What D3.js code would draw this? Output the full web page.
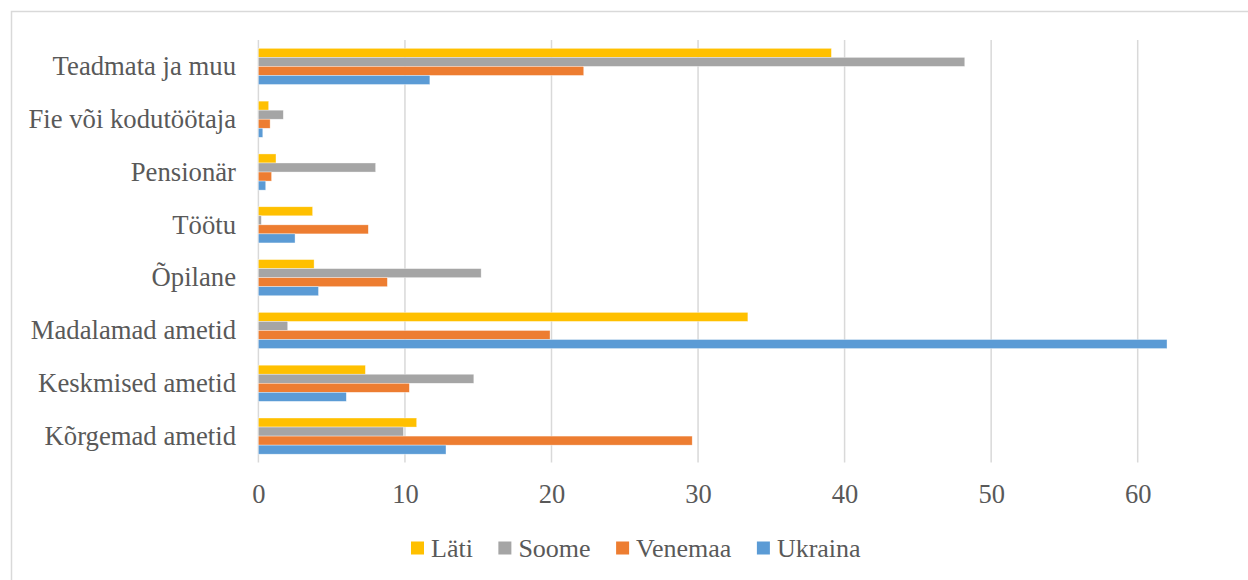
<!DOCTYPE html>
<html>
<head>
<meta charset="utf-8">
<script src="https://cdn.jsdelivr.net/npm/d3@7"></script>
<style>
  html, body { margin: 0; padding: 0; background: #fff; }
  svg { display: block; }
  text { font-family: "Liberation Serif", "Times New Roman", serif; fill: #595959; }
</style>
</head>
<body>
<svg id="chart" width="1248" height="580"></svg>
<script>
// Categories (top to bottom as displayed)
const categories = ["Teadmata ja muu", "Fie või kodutöötaja", "Pensionär", "Töötu", "Õpilane", "Madalamad ametid", "Keskmised ametid", "Kõrgemad ametid"];
const seriesNames = ["Läti", "Soome", "Venemaa", "Ukraina"];
const seriesColors = ["#FFC000", "#A5A5A5", "#ED7D31", "#5B9BD5"];
// Values per series, in the category order above
const latiValues    = [39.1, 0.7, 1.2, 3.7, 3.8, 33.4, 7.3, 10.8];
const soomeValues   = [48.2, 1.7, 8.0, 0.2, 15.2, 2.0, 14.7, 9.9];
const venemaaValues = [22.2, 0.8, 0.9, 7.5, 8.8, 19.9, 10.3, 29.6];
const ukrainaValues = [11.7, 0.3, 0.5, 2.5, 4.1, 62.0, 6.0, 12.8];
const xTicks = [0, 10, 20, 30, 40, 50, 60];

const seriesValues = [latiValues, soomeValues, venemaaValues, ukrainaValues];

const svg = d3.select("#chart");

// outer frame
svg.append("rect")
  .attr("x", 11.5).attr("y", 11.5)
  .attr("width", 1400).attr("height", 800)
  .attr("fill", "none").attr("stroke", "#d9d9d9").attr("stroke-width", 1.5);

const plotTop = 40, plotBottom = 462.5;
const x = d3.scaleLinear().domain([0, 60]).range([258.4, 1137.7]);
const y = d3.scaleBand().domain(categories).range([plotTop, plotBottom])
  .paddingInner(0.315).paddingOuter(0.1575);
const ySub = d3.scaleBand().domain(seriesNames).range([0, y.bandwidth()]);

// gridlines
svg.append("g").selectAll("line").data(xTicks).join("line")
  .attr("x1", d => x(d)).attr("x2", d => x(d))
  .attr("y1", plotTop).attr("y2", plotBottom)
  .attr("stroke", "#d9d9d9").attr("stroke-width", 1.5);

// bars
const rows = [];
categories.forEach((c, i) => {
  seriesNames.forEach((s, j) => {
    rows.push({ cat: c, series: s, value: seriesValues[j][i], color: seriesColors[j] });
  });
});
svg.append("g").selectAll("rect").data(rows).join("rect")
  .attr("x", x(0))
  .attr("y", d => y(d.cat) + ySub(d.series))
  .attr("width", d => x(d.value) - x(0))
  .attr("height", ySub.bandwidth())
  .attr("fill", d => d.color)
  .attr("stroke", "#ffffff").attr("stroke-width", 0.6).attr("stroke-opacity", 0.6);

// x axis labels
const xAxis = d3.axisBottom(x).tickValues(xTicks).tickSize(0).tickPadding(0).tickFormat(d3.format("d"));
const xg = svg.append("g").attr("transform", `translate(0, ${plotBottom})`).call(xAxis);
xg.select(".domain").remove();
xg.selectAll("text")
  .attr("y", 40.5).attr("dy", null)
  .style("font-size", "26.5px").style("font-family", "'Liberation Serif', serif").attr("fill", "#595959");

// y axis labels
const yAxis = d3.axisLeft(y).tickSize(0).tickPadding(0);
const yg = svg.append("g").attr("transform", `translate(236, 0)`).call(yAxis);
yg.select(".domain").remove();
yg.selectAll("text")
  .attr("x", 0).attr("dy", "0.33em")
  .style("font-size", "26.7px").style("font-family", "'Liberation Serif', serif").attr("fill", "#595959");

// legend
const legend = svg.append("g");
let lx = 411;
seriesNames.forEach((s, j) => {
  legend.append("rect").attr("x", lx).attr("y", 541.5).attr("width", 13).attr("height", 13)
    .attr("fill", seriesColors[j]);
  const t = legend.append("text").attr("x", lx + 20).attr("y", 556.5)
    .style("font-size", "26px").text(s);
  lx += 20 + t.node().getComputedTextLength() + 25.5;
});
</script>
</body>
</html>
